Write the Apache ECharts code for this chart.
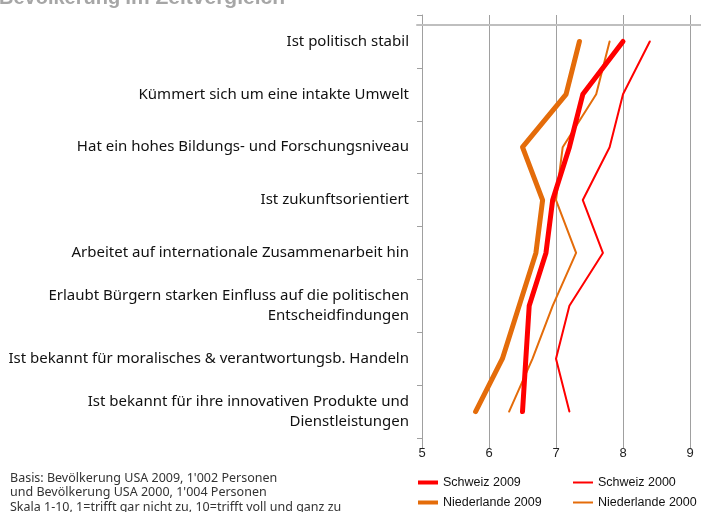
<!DOCTYPE html>
<html lang="de">
<head>
    <meta charset="utf-8">
    <title>Bevölkerung im Zeitvergleich</title>
    <script src="https://cdn.jsdelivr.net/npm/echarts@6/dist/echarts.min.js"></script>
    <style>
        body { margin: 0; background: #fff; }
        #chart { width: 701px; height: 512px; }
    </style>
</head>
<body>
<div id="chart"></div>
<script>
    // Kategorien (von oben nach unten)
    let categories = [
        'Ist politisch stabil',
        'Kümmert sich um eine intakte Umwelt',
        'Hat ein hohes Bildungs- und Forschungsniveau',
        'Ist zukunftsorientiert',
        'Arbeitet auf internationale Zusammenarbeit hin',
        'Erlaubt Bürgern starken Einfluss auf die politischen\nEntscheidfindungen',
        'Ist bekannt für moralisches & verantwortungsb. Handeln',
        'Ist bekannt für ihre innovativen Produkte und\nDienstleistungen'
    ];
    let schweiz2009 = [8.0, 7.4, 7.2, 6.95, 6.85, 6.6, 6.55, 6.5];
    let schweiz2000 = [8.4, 8.0, 7.8, 7.4, 7.7, 7.2, 7.0, 7.2];
    let niederlande2009 = [7.35, 7.15, 6.5, 6.8, 6.7, 6.45, 6.2, 5.8];
    let niederlande2000 = [7.8, 7.6, 7.1, 7.0, 7.3, 6.95, 6.65, 6.3];
    let xTicks = [5, 6, 7, 8, 9];

    let red = '#ff0000';
    let orange = '#e46c0a';
    let grey = '#a0a0a0';

    let myChart = echarts.init(document.getElementById('chart'));

    function legendItem(name, h, left, top) {
        return {
            data: [name],
            left: left,
            top: top,
            icon: 'rect',
            itemWidth: 20,
            itemHeight: h,
            padding: 0,
            selectedMode: false,
            textStyle: {fontFamily: 'Liberation Sans', fontSize: 12.5, color: '#111'}
        };
    }

    function lineSeries(name, data, color, width, z) {
        return {
            name: name,
            type: 'line',
            data: data,
            symbol: 'none',
            z: z,
            color: color,
            lineStyle: {color: color, width: width, join: 'round', cap: 'round'},
            xAxisIndex: 0,
            yAxisIndex: 0
        };
    }

    let option = {
        animation: false,
        title: [
            {
                text: '{b|Bevölkerung} {n|im Zeitvergleich}',
                left: -1,
                top: -12,
                padding: 0,
                textStyle: {
                    rich: {
                        b: {fontFamily: 'Liberation Sans', fontSize: 20, fontWeight: 'bold', color: '#a6a6a6', lineHeight: 21},
                        n: {fontFamily: 'Liberation Sans', fontSize: 21, color: '#a6a6a6', lineHeight: 21}
                    }
                }
            },
            {
                text: "Basis: Bevölkerung USA 2009, 1'002 Personen\nund Bevölkerung USA 2000, 1'004 Personen\nSkala 1-10, 1=trifft gar nicht zu, 10=trifft voll und ganz zu",
                left: 10,
                top: 471,
                padding: 0,
                textStyle: {fontFamily: 'Noto Sans', fontSize: 12.5, fontWeight: 'normal', color: '#333', lineHeight: 14.5}
            }
        ],
        legend: [
            legendItem('Schweiz 2009', 4, 418, 476),
            legendItem('Schweiz 2000', 2, 573, 476),
            legendItem('Niederlande 2009', 4, 418, 496),
            legendItem('Niederlande 2000', 2, 573, 496)
        ],
        grid: [
            {left: 422, width: 268, top: 15, bottom: 74, containLabel: false},
            {left: 417, right: 0, top: 15, height: 10, containLabel: false}
        ],
        xAxis: [
            {
                gridIndex: 0,
                type: 'value',
                min: 5,
                max: 9,
                interval: 1,
                axisLine: {show: false},
                axisTick: {show: true, length: 10, lineStyle: {color: grey}},
                splitLine: {show: true, lineStyle: {color: grey, width: 1}},
                axisLabel: {
                    margin: 9,
                    fontFamily: 'Liberation Sans',
                    fontSize: 13,
                    color: '#222',
                    formatter: function (v) { return xTicks.indexOf(v) >= 0 ? String(v) : ''; }
                }
            },
            {
                gridIndex: 1,
                type: 'value',
                position: 'top',
                axisLine: {show: true, lineStyle: {color: '#bfbfbf', width: 2}},
                axisTick: {show: false},
                axisLabel: {show: false},
                splitLine: {show: false}
            }
        ],
        yAxis: [
            {
                gridIndex: 0,
                type: 'category',
                inverse: true,
                data: categories,
                boundaryGap: true,
                axisLine: {show: true, lineStyle: {color: grey, width: 1}},
                axisTick: {show: true, length: 5, interval: 0, lineStyle: {color: grey}},
                splitLine: {show: false},
                axisLabel: {
                    margin: 13,
                    interval: 0,
                    fontFamily: 'Noto Sans',
                    fontSize: 15,
                    color: '#111',
                    lineHeight: 20,
                    align: 'right'
                }
            },
            {
                gridIndex: 1,
                type: 'value',
                show: false
            }
        ],
        series: [
            lineSeries('Niederlande 2000', niederlande2000, orange, 2, 2),
            lineSeries('Schweiz 2000', schweiz2000, red, 2, 2),
            lineSeries('Niederlande 2009', niederlande2009, orange, 5, 3),
            lineSeries('Schweiz 2009', schweiz2009, red, 5, 4)
        ]
    };
    myChart.setOption(option);
</script>
</body>
</html>
